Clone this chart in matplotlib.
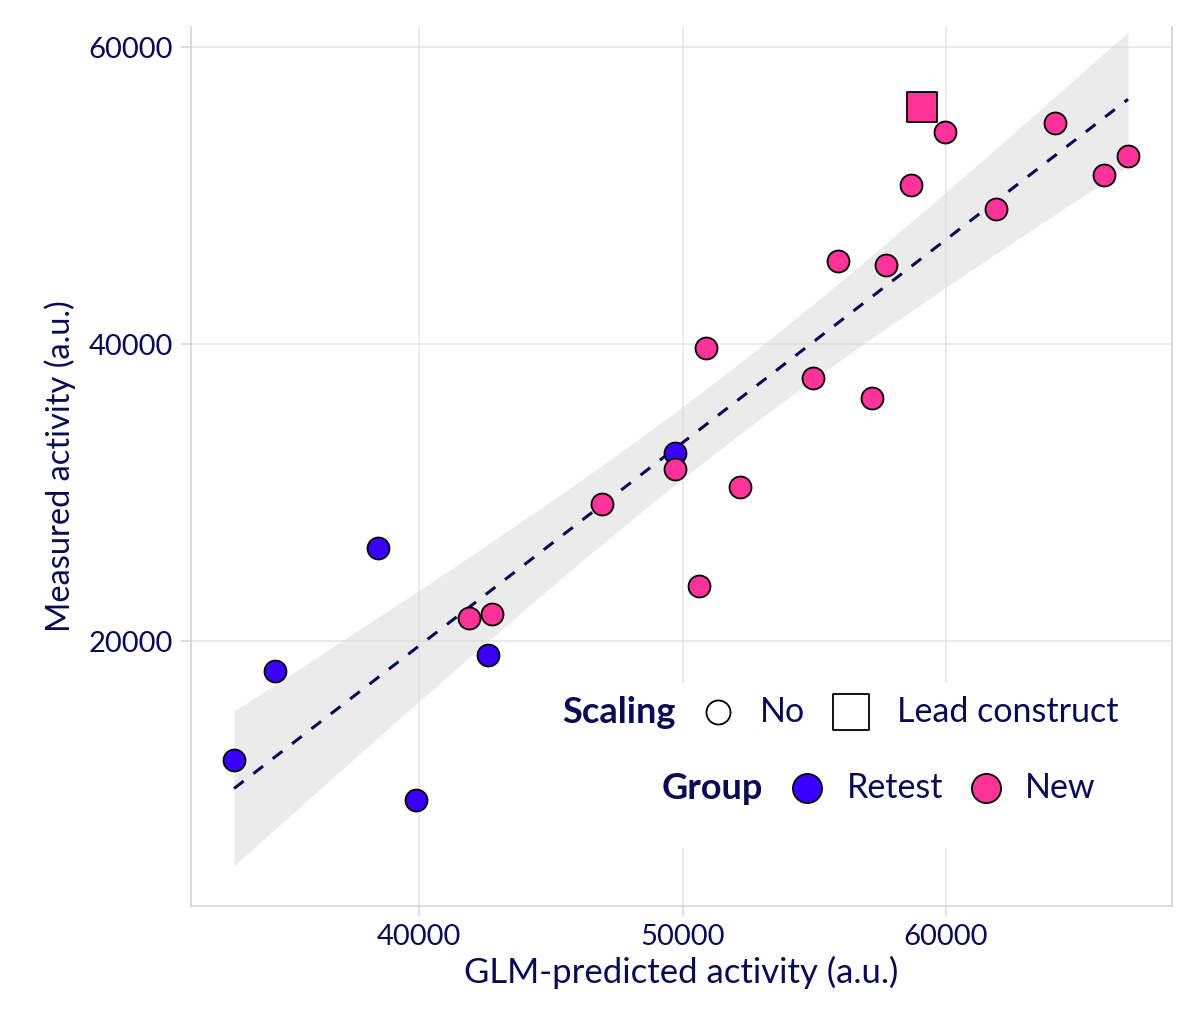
import numpy as np
import matplotlib.pyplot as plt
from matplotlib.patches import Rectangle

plt.rcParams['font.family'] = ['Lato', 'DejaVu Sans']

# constructs: GLM prediction vs measured activity
retest_pred = [32979, 34535, 38444, 39886, 42619, 49715]
retest_meas = [11987, 17980, 26263, 9293, 19057, 32660]

new_pred = [41898, 42770, 46945, 49715, 50626, 50892, 52182, 54953, 55901,
            57192, 57723, 58672, 59962, 61898, 64137, 65996, 66907]
new_meas = [21549, 21818, 29226, 31582, 23704, 39731, 30370, 37710, 45589,
            36364, 45320, 50707, 54276, 49091, 54882, 51380, 52660]

lead_pred = [59089]
lead_meas = [55960]

txt = '#0b0b55'
blue = '#3a00ff'
pink = '#ff3399'

# linear fit + 95% confidence band over all constructs
x = np.array(retest_pred + new_pred + lead_pred, dtype=float)
y = np.array(retest_meas + new_meas + lead_meas, dtype=float)
n = len(x)
b, a = np.polyfit(x, y, 1)
resid = y - (a + b * x)
s = np.sqrt(np.sum(resid**2) / (n - 2))
sxx = np.sum((x - x.mean())**2)
t95 = 2.074  # t quantile, df = 22
xs = np.linspace(x.min(), x.max(), 200)
ys = a + b * xs
se = s * np.sqrt(1 / n + (xs - x.mean())**2 / sxx)

fig = plt.figure(figsize=(11.98, 10.15), dpi=100)
ax = fig.add_axes([191/1198, 1-906/1015, 981/1198, 879/1015])

ax.fill_between(xs, ys - t95*se, ys + t95*se, color='#d9d9d9', alpha=0.5,
                lw=0, zorder=1)
ax.plot(xs, ys, color='#0a0a5a', lw=2.2, dashes=(4, 4), zorder=2)

ax.scatter(retest_pred, retest_meas, s=250, c=blue, edgecolors='black',
           linewidths=1.3, zorder=3)
ax.scatter(new_pred, new_meas, s=250, c=pink, edgecolors='black',
           linewidths=1.3, zorder=3)
ax.scatter(lead_pred, lead_meas, s=480, marker='s', c=pink,
           edgecolors='black', linewidths=1.3, zorder=3)

ax.set_xlim(31347, 68577)
ax.set_ylim(2155, 61347)
ax.set_xticks([40000, 50000, 60000])
ax.set_yticks([20000, 40000, 60000])
ax.grid(True, color='#e5e5e5', lw=1.1, zorder=0)
ax.set_axisbelow(True)
for side in ['left', 'bottom', 'right']:
    ax.spines[side].set_color('#d4d4d4')
    ax.spines[side].set_linewidth(1.2)
ax.spines['top'].set_visible(False)
ax.tick_params(length=7, width=1.1, color='#d4d4d4', labelsize=21,
               labelcolor=txt, pad=6)
ax.set_xlabel('GLM-predicted activity (a.u.)', fontsize=25, color=txt,
              labelpad=4)
ax.set_ylabel('Measured activity (a.u.)', fontsize=23.5, color=txt,
              labelpad=9)

# legend, drawn by hand inside the panel
ax.add_patch(Rectangle((0.356, 0.066), 0.611, 0.188, transform=ax.transAxes,
                       facecolor='white', edgecolor='none', zorder=4))
r1, r2 = 0.2207, 0.1342
kw = dict(transform=ax.transAxes, va='center', color=txt, zorder=5)
ax.text(0.4944, r1, 'Scaling', ha='right', fontsize=26, weight='bold', **kw)
ax.scatter([0.5372], [r1], s=300, facecolors='white', edgecolors='black',
           linewidths=1.3, transform=ax.transAxes, zorder=5, clip_on=False)
ax.text(0.580, r1, 'No', ha='left', fontsize=24.5, **kw)
ax.scatter([0.6728], [r1], s=700, marker='s', facecolors='white',
           edgecolors='black', linewidths=1.3, transform=ax.transAxes,
           zorder=5, clip_on=False)
ax.text(0.7197, r1, 'Lead construct', ha='left', fontsize=24.5, **kw)

ax.text(0.5831, r2, 'Group', ha='right', fontsize=26, weight='bold', **kw)
ax.scatter([0.628], [r2], s=440, c=blue, edgecolors='black', linewidths=1.3,
           transform=ax.transAxes, zorder=5, clip_on=False)
ax.text(0.6687, r2, 'Retest', ha='left', fontsize=24.5, **kw)
ax.scatter([0.8104], [r2], s=440, c=pink, edgecolors='black', linewidths=1.3,
           transform=ax.transAxes, zorder=5, clip_on=False)
ax.text(0.8502, r2, 'New', ha='left', fontsize=24.5, **kw)

fig.savefig('out.png', dpi=100)
